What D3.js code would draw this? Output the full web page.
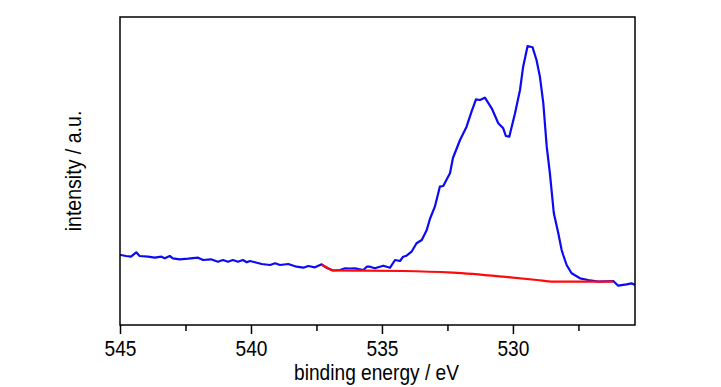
<!DOCTYPE html>
<html>
<head>
<meta charset="utf-8">
<script src="https://cdn.jsdelivr.net/npm/d3@7"></script>
<style>
  html, body { margin: 0; padding: 0; background: #fff; }
  svg { display: block; }
  text { font-family: "Liberation Sans", Arial, sans-serif; fill: #000; }
</style>
</head>
<body>
<svg id="chart" width="721" height="387"></svg>
<script>
// binding energy (eV) and intensity (a.u.) of the measured spectrum
const measuredEnergy = [
  545.00, 544.97, 544.77, 544.58, 544.38, 544.25, 543.93, 543.68, 543.42, 543.29,
  543.10, 542.98, 542.72, 542.40, 542.02, 541.83, 541.53, 541.26, 541.07, 540.88,
  540.69, 540.50, 540.31, 540.16, 540.04, 539.85, 539.59, 539.27, 539.08, 538.89,
  538.58, 538.26, 538.00, 537.81, 537.56, 537.30, 537.10, 536.86, 536.60, 536.41,
  536.22, 536.03, 535.71, 535.57, 535.46, 535.27, 534.95, 534.69, 534.50, 534.31,
  534.19, 534.06, 533.87, 533.68, 533.48, 533.29, 533.17, 532.98, 532.79, 532.66,
  532.40, 532.29, 532.02, 531.77, 531.58, 531.41, 531.26, 531.07, 530.81, 530.56,
  530.37, 530.27, 530.14, 529.92, 529.73, 529.61, 529.44, 529.25, 529.10, 528.97,
  528.84, 528.71, 528.59, 528.44, 528.27, 528.14, 528.08, 527.95, 527.76, 527.44,
  527.13, 526.74, 526.17, 525.98, 525.66, 525.47, 525.34
];
const measuredIntensity = [
  70.0, 70.0, 69.0, 68.3, 72.7, 69.0, 68.3, 67.3, 68.3, 66.7,
  69.0, 66.7, 65.7, 66.3, 67.3, 65.0, 65.7, 63.3, 65.0, 63.3,
  65.0, 63.3, 65.0, 62.7, 64.0, 62.7, 61.0, 60.0, 61.7, 60.0,
  61.0, 58.3, 57.3, 59.0, 57.7, 60.7, 57.0, 54.5, 55.0, 56.7,
  56.5, 56.7, 55.0, 58.5, 58.3, 56.7, 59.3, 57.3, 65.0, 64.0,
  68.3, 69.3, 73.3, 81.7, 85.0, 95.0, 106.0, 118.3, 138.3, 139.0,
  152.0, 167.0, 185.0, 198.3, 213.3, 225.7, 225.0, 227.3, 216.7, 201.7,
  196.7, 189.0, 188.3, 211.7, 235.0, 258.3, 279.0, 277.7, 265.0, 248.3,
  221.7, 178.3, 152.0, 112.0, 92.0, 75.0, 70.0, 60.0, 51.7, 46.7,
  45.0, 43.3, 44.0, 39.3, 40.7, 41.7, 40.0
];
// background (red) curve
const backgroundEnergy = [537.30, 537.10, 536.86, 535.73, 534.20, 532.29, 530.38, 529.08, 528.47, 526.18];
const backgroundIntensity = [60.0, 57.5, 54.5, 54.3, 54.0, 52.3, 48.3, 45.0, 43.3, 43.3];

const majorTicks = [545, 540, 535, 530];
const minorTicks = [542.5, 537.5, 532.5, 527.5];
const xLabel = "binding energy / eV";
const yLabel = "intensity / a.u.";

const margin = { left: 120, right: 86, top: 17, bottom: 62 };
const W = 721, H = 387;
const svg = d3.select("#chart");

const x = d3.scaleLinear().domain([545, 525.34]).range([margin.left, W - margin.right]);
const y = d3.scaleLinear().domain([0, 308]).range([H - margin.bottom, margin.top]);

const measured = measuredEnergy.map((e, i) => ({ e, v: measuredIntensity[i] }));
const background = backgroundEnergy.map((e, i) => ({ e, v: backgroundIntensity[i] }));

const line = d3.line().x(d => x(d.e)).y(d => y(d.v));
const smoothLine = d3.line().x(d => x(d.e)).y(d => y(d.v)).curve(d3.curveMonotoneX);

svg.append("path").datum(measured)
  .attr("d", line).attr("fill", "none")
  .attr("stroke", "#0a0af5").attr("stroke-width", 2.2).attr("stroke-linejoin", "round");

svg.append("path").datum(background)
  .attr("d", smoothLine).attr("fill", "none")
  .attr("stroke", "#ff0a0a").attr("stroke-width", 2.2).attr("stroke-linejoin", "round");

// frame
svg.append("rect")
  .attr("x", x.range()[0]).attr("y", y.range()[1])
  .attr("width", x.range()[1] - x.range()[0])
  .attr("height", y.range()[0] - y.range()[1])
  .attr("fill", "none").attr("stroke", "#000").attr("stroke-width", 1.5);

// x axis
const gx = svg.append("g").attr("transform", `translate(0,${y.range()[0]})`)
  .call(d3.axisBottom(x).tickValues(majorTicks).tickSize(9).tickPadding(6).tickFormat(d3.format("d")));
gx.select(".domain").remove();
gx.selectAll(".tick line").attr("stroke", "#000").attr("stroke-width", 1.5);
gx.selectAll(".tick text")
  .attr("font-size", 22.5)
  .attr("font-family", "'Liberation Sans', Arial, sans-serif")
  .attr("fill", "#000")
  .attr("transform", "scale(0.85,1)");

const gxm = svg.append("g").attr("transform", `translate(0,${y.range()[0]})`)
  .call(d3.axisBottom(x).tickValues(minorTicks).tickSize(6).tickFormat(""));
gxm.select(".domain").remove();
gxm.selectAll(".tick line").attr("stroke", "#000").attr("stroke-width", 1.5);

// axis titles
svg.append("text")
  .attr("transform", `translate(${(x.range()[0] + x.range()[1]) / 2 - 1},380) scale(0.87,1)`)
  .attr("text-anchor", "middle")
  .attr("font-size", 22)
  .text(xLabel);

svg.append("text")
  .attr("transform", `translate(81,${(y.range()[0] + y.range()[1]) / 2}) rotate(-90) scale(0.91,1)`)
  .attr("text-anchor", "middle")
  .attr("font-size", 21.5)
  .text(yLabel);
</script>
</body>
</html>
